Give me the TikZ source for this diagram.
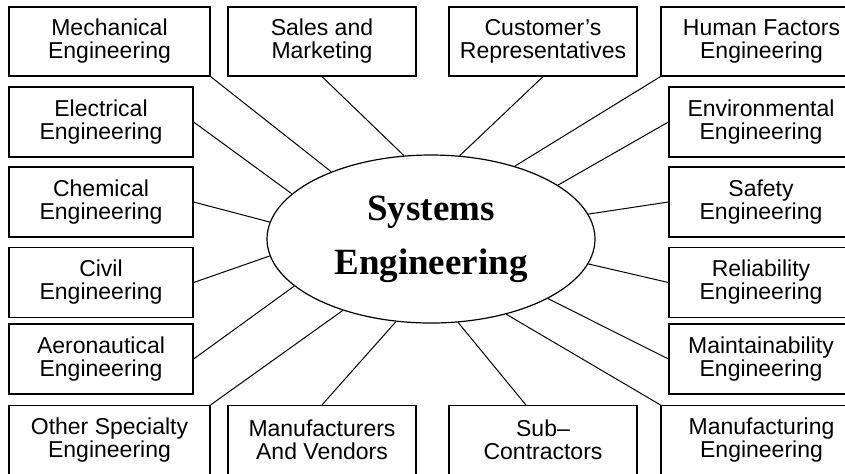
\documentclass[tikz,border=0pt]{standalone}
\usepackage{fontspec}
\setmainfont{Liberation Sans}
\newfontfamily\hubfont{Liberation Serif}
\usepackage{tikz}
\usetikzlibrary{shapes.geometric}
\tikzset{
  every field box/.style={draw=edge,line width=0.6pt,align=center,inner sep=0pt,
    font=\fontsize{11.5}{11.5}\selectfont},
  corner box/.style={every field box,minimum width=100.5pt,minimum height=34.5pt},
  middle box/.style={every field box,minimum width=94pt,minimum height=34.5pt},
  side box/.style={every field box,minimum width=92pt,minimum height=35pt},
  every spoke/.style={draw=edge,line width=0.5pt},
}
\colorlet{edge}{black}

\begin{document}
\begin{tikzpicture}[x=0.5pt,y=-0.5pt]
\useasboundingbox (0,0) rectangle (845,473);
\node[ellipse,draw=edge,line width=0.6pt,minimum width=164pt,minimum height=84pt,inner sep=0pt,
  align=center,font=\hubfont\bfseries\fontsize{18.5}{27}\selectfont] (hub) at (431,239) {Systems\\Engineering};
% top row
\node[corner box] (mech) at (109.5,41.5) {Mechanical\\Engineering};
\node[middle box] (sales) at (322,41.5) {Sales and\\Marketing};
\node[middle box] (cust) at (543,41.5) {Customer’s\\Representatives};
\node[corner box] (human) at (761.5,41.5) {Human Factors\\Engineering};
% left column
\node[side box] (elec) at (101,122) {Electrical\\Engineering};
\node[side box] (chem) at (101,202) {Chemical\\Engineering};
\node[side box] (civil) at (101,282.5) {Civil\\Engineering};
\node[side box] (aero) at (101,359) {Aeronautical\\Engineering};
% right column
\node[side box] (env) at (761,122) {Environmental\\Engineering};
\node[side box] (safety) at (761,202) {Safety\\Engineering};
\node[side box] (rel) at (761,282.5) {Reliability\\Engineering};
\node[side box] (maint) at (761,359) {Maintainability\\Engineering};
% bottom row
\node[corner box] (other) at (109.5,440) {Other Specialty\\Engineering};
\node[middle box] (vend) at (322,440) {Manufacturers\\And Vendors};
\node[middle box] (sub) at (543,440) {Sub–\\Contractors};
\node[corner box] (mfg) at (761.5,440) {Manufacturing\\Engineering};
\foreach \fld/\ang in {mech.south east/146.8, sales.south/108.6, cust.south/71.6, human.south west/41.7,
  elec.east/162.9, chem.east/174, civil.east/186, aero.east/199.6,
  env.west/23.8, safety.west/9.3, rel.west/351.4, maint.west/333,
  other.north east/219.4, vend.north/247.7, sub.116/288, mfg.north west/315.8}
{
  \draw[every spoke] (\fld) -- (hub.\ang);
}
\end{tikzpicture}
\end{document}
